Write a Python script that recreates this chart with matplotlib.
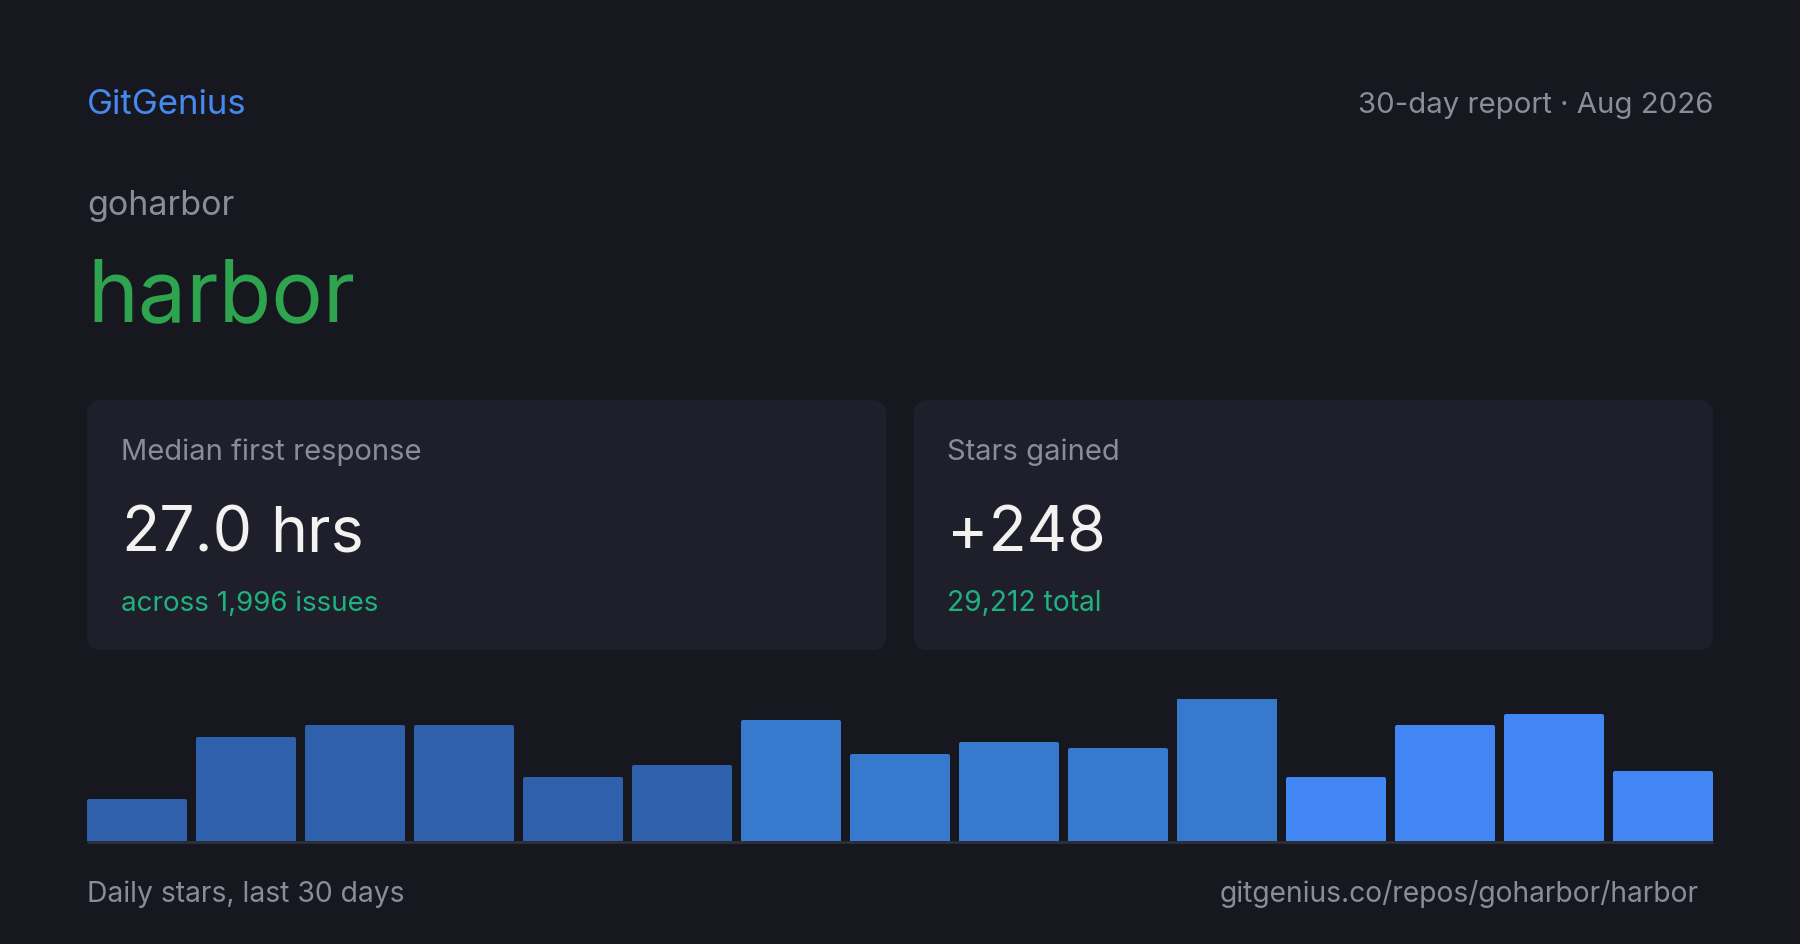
import matplotlib
matplotlib.use("Agg")
import matplotlib.pyplot as plt
from matplotlib.patches import FancyBboxPatch

plt.rcParams['font.family'] = ['Inter', 'DejaVu Sans']

# data
daily_stars = [7, 18, 20, 20, 11, 13, 21, 15, 17, 16, 25, 11, 20, 22, 12]
bar_colors = ['#2f60ab'] * 6 + ['#3779cc'] * 5 + ['#4286f4'] * 4
owner = "goharbor"
repo = "harbor"
median_hrs = "27.0"
issues = "1,996"
stars_gained = "+248"
stars_total = "29,212"

BG = '#16171f'
CARD = '#1f1f2b'
GREY = '#8a8c97'

W, H = 1800, 945
fig = plt.figure(figsize=(18, 9.45), dpi=100, facecolor=BG)

# pixel-coordinate canvas for text and cards
ax = fig.add_axes([0, 0, 1, 1])
ax.set_xlim(0, W)
ax.set_ylim(H, 0)
ax.axis('off')
ax.set_facecolor(BG)

ax.text(87, 114, "GitGenius", color='#4689f0', fontsize=25, va='baseline', ha='left')
ax.text(1713, 113, "30-day report \u00b7 Aug 2026", color=GREY, fontsize=21.2,
        va='baseline', ha='right')
ax.text(87, 215, owner, color=GREY, fontsize=24.5, va='baseline', ha='left')
ax.text(87, 321, repo, color='#2ea44f', fontsize=62, va='baseline', ha='left')

# cards
for x0 in (87, 914):
    ax.add_patch(FancyBboxPatch((x0, 401), 799, 250,
                                boxstyle="round,pad=0,rounding_size=14",
                                facecolor=CARD, edgecolor='none'))

ax.text(121, 460, "Median first response", color=GREY, fontsize=21, va='baseline')
ax.text(121, 551, median_hrs, color='#f2f2f0', fontsize=45, va='baseline')
ax.text(270, 551, "hrs", color='#f2f2f0', fontsize=45, va='baseline')
ax.text(121, 611, "across " + issues + " issues", color='#20b27e', fontsize=20,
        va='baseline')

ax.text(947, 460, "Stars gained", color=GREY, fontsize=21, va='baseline')
ax.text(947, 551, stars_gained, color='#f2f2f0', fontsize=45, va='baseline')
ax.text(947, 611, stars_total + " total", color='#20b27e', fontsize=20.3, va='baseline')

ax.text(87, 902, "Daily stars, last 30 days", color=GREY, fontsize=20.4, va='baseline')
ax.text(1699, 902, "gitgenius.co/repos/" + owner + "/" + repo, color=GREY,
        fontsize=20.3, va='baseline', ha='right')

# bars
n = len(daily_stars)
left, right, base, top = 87, 1713, 842, 700
bx = fig.add_axes([left / W, 1 - base / H, (right - left) / W, (base - top) / H])
bx.set_facecolor('none')
bx.bar(range(n), daily_stars, width=0.881, color=bar_colors, edgecolor=bar_colors,
       linewidth=2.9, joinstyle='round', align='center')
bx.set_xlim(-0.459, n - 1 + 0.459)
bx.set_ylim(0, max(daily_stars))
bx.axis('off')

ax.plot([87, 1713], [843, 843], color='#2d2f3b', lw=2, solid_capstyle='butt', zorder=5)

fig.savefig("out.png", dpi=100, facecolor=BG)
